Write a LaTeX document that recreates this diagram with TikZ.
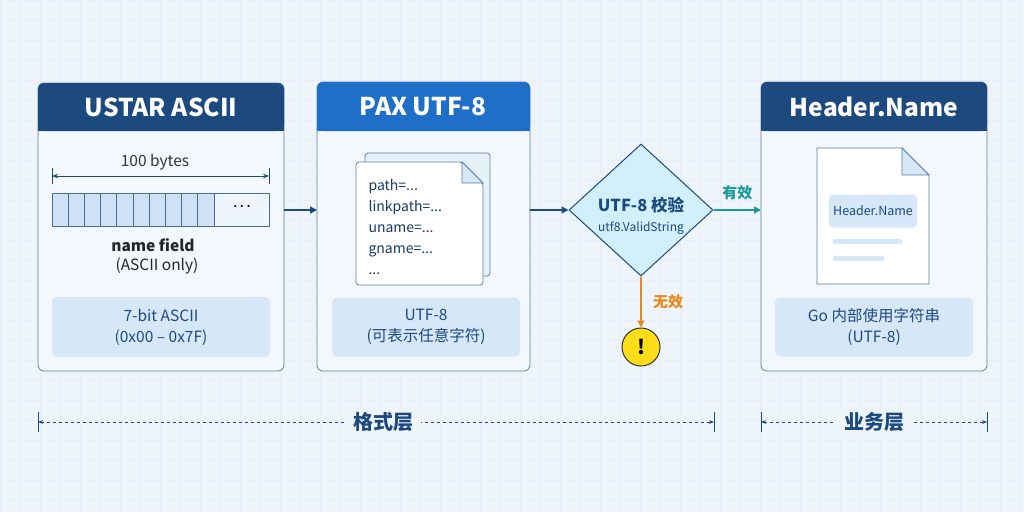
\documentclass[tikz,border=0pt]{standalone}
\usepackage{fontspec}
\setmainfont{Noto Sans CJK SC}
\usetikzlibrary{arrows.meta,shapes.geometric,positioning}
\definecolor{navy}{HTML}{1D4A7E}
\definecolor{paxblue}{HTML}{1F6FC9}
\definecolor{panel}{HTML}{F2F8FD}
\definecolor{soft}{HTML}{D6E7F7}
\definecolor{cell}{HTML}{CFE2F5}
\definecolor{teal}{HTML}{1E9A9A}
\definecolor{orng}{HTML}{E8891C}
\definecolor{bg}{HTML}{EDF4FA}
\tikzset{
  panel/.style={draw=navy!70, line width=0.8pt, fill=panel, rounded corners=6pt},
  head/.style={text=white, font=\fontsize{24.5}{26}\selectfont\bfseries},
  inner/.style={fill=soft, rounded corners=5pt, draw=none, text=navy, align=center, font=\fontsize{15.5}{21}\selectfont},
  flow/.style={-{Triangle[length=7pt,width=7pt]}, line width=1.5pt},
  lbl/.style={font=\fontsize{15}{16}\selectfont\bfseries},
}
\begin{document}
\begin{tikzpicture}[x=1pt,y=-1pt]
\useasboundingbox (0,0) rectangle (1024,512);
\fill[bg] (0,0) rectangle (1024,512);
\draw[blue!8, line width=0.4pt, step=20pt] (0,0) grid (1024,512);

% USTAR ASCII panel
\draw[panel] (38,83) rectangle (284,371);
\fill[navy, rounded corners=6pt] (38,83) rectangle (284,131);
\fill[navy] (38,115) rectangle (284,131);
\node[head] (ustar) at (161,107) {USTAR ASCII};
\node[font=\fontsize{15.5}{16}\selectfont, text=black!80] (bytes) at (155,162) {100 bytes};
\coordinate (bl) at (52,176);
\coordinate (br) at (269,176);
\draw[navy, {Stealth[length=6pt]}-{Stealth[length=6pt]}, line width=0.6pt] (bl) -- (br);
\draw[navy, line width=0.6pt] (52,168) -- (52,184) (269,168) -- (269,184);
\draw[navy!80, fill=white!60!soft, line width=0.8pt] (52,193) rectangle (269,226);
\foreach \i in {0,...,9}
  \draw[navy!80, fill=cell, line width=0.8pt] (52+\i*16.2,193) rectangle (68.2+\i*16.2,226);
\node[font=\bfseries] (dots) at (242,207) {. . .};
\node[font=\fontsize{15.5}{16}\selectfont\bfseries, text=black!85] (field) at (153,245) {name field};
\node[font=\fontsize{15.5}{16}\selectfont, text=black!85] (only) at (157,266) {(ASCII only)};
\node[inner, minimum width=218pt, minimum height=60pt] (ascii) at (161,327) {7-bit ASCII\\(0x00 – 0x7F)};

% PAX UTF-8 panel
\draw[panel] (317,82) rectangle (530,371);
\fill[paxblue, rounded corners=6pt] (317,82) rectangle (530,131);
\fill[paxblue] (317,115) rectangle (530,131);
\node[head] (pax) at (423,107) {PAX UTF-8};
\draw[navy!70, fill=soft!60!white, rounded corners=3pt, line width=0.8pt] (365,153) rectangle (490,276);
\draw[navy!70, fill=white, line width=0.8pt, rounded corners=3pt] (356,162) -- (462,162) -- (483,183) -- (483,285) -- (356,285) -- cycle;
\draw[navy!70, fill=soft, line width=0.8pt] (462,162) -- (462,183) -- (483,183) -- cycle;
\node[anchor=west, align=left, text=navy!80!black, font=\fontsize{14}{21}\selectfont] (keys) at (365,227)
  {path=...\\linkpath=...\\uname=...\\gname=...\\...};
\node[inner, minimum width=188pt, minimum height=59pt] (utf) at (426,327) {UTF-8\\(可表示任意字符)};

% check
\node[diamond, draw=navy, fill=cyan!18, line width=1pt, minimum width=144pt, minimum height=132pt, inner sep=0pt] (check) at (641,210) {};
\node[text=navy, font=\fontsize{16.5}{17}\selectfont\bfseries] (ctitle) at (641,205) {UTF-8 校验};
\node[text=navy, font=\fontsize{12}{12}\selectfont] (cfun) at (641,228) {utf8.ValidString};
\node[circle, fill=orange!30!yellow!90!white, draw=black!80, line width=1pt, minimum size=38pt, font=\fontsize{20}{20}\selectfont\bfseries] (warn) at (641,347) {!};

% Header.Name panel
\draw[panel] (761,82) rectangle (987,371);
\fill[navy, rounded corners=6pt] (761,82) rectangle (987,131);
\fill[navy] (761,115) rectangle (987,131);
\node[head] (hname) at (874,107) {Header.Name};
\draw[navy!70, fill=white, line width=0.8pt] (817,148) -- (902,148) -- (929,175) -- (929,284) -- (817,284) -- cycle;
\draw[navy!70, fill=soft, line width=0.8pt] (902,148) -- (902,175) -- (929,175) -- cycle;
\node[fill=soft, rounded corners=4pt, minimum width=88pt, minimum height=33pt, text=navy, font=\fontsize{12.5}{13}\selectfont] (field2) at (873,211) {Header.Name};
\draw[soft, line width=5pt, line cap=round] (835,241) -- (900,241) (835,258) -- (882,258);
\node[inner, minimum width=198pt, minimum height=59pt] (gostr) at (874,327) {Go 内部使用字符串\\(UTF-8)};

% connectors
\draw[flow, navy] (284,210) -- (check.west -| 317,210);
\draw[flow, navy] (530,210) -- (check.west);
\draw[flow, teal] (check.east) -- node[above=6pt, lbl, text=teal] {有效} (761,210);
\draw[flow, orng] (check.south) -- node[right=8pt, lbl, text=orng] {无效} (warn.north);

% layers
\coordinate (f1) at (38,422);
\coordinate (f2) at (714,422);
\coordinate (b1) at (761,422);
\coordinate (b2) at (987,422);
\draw[navy, dashed, line width=0.6pt, {Stealth[length=5pt]}-{Stealth[length=5pt]}] (f1) -- (f2);
\draw[navy, dashed, line width=0.6pt, {Stealth[length=5pt]}-{Stealth[length=5pt]}] (b1) -- (b2);
\draw[navy, line width=0.6pt] (38,412) -- (38,432) (714,412) -- (714,432) (761,412) -- (761,432) (987,412) -- (987,432);
\node[fill=bg, text=navy, font=\fontsize{20}{22}\selectfont\bfseries, inner xsep=8pt] (fmt) at (383,422) {格式层};
\node[fill=bg, text=navy, font=\fontsize{20}{22}\selectfont\bfseries, inner xsep=8pt] (biz) at (874,422) {业务层};
\end{tikzpicture}
\end{document}
